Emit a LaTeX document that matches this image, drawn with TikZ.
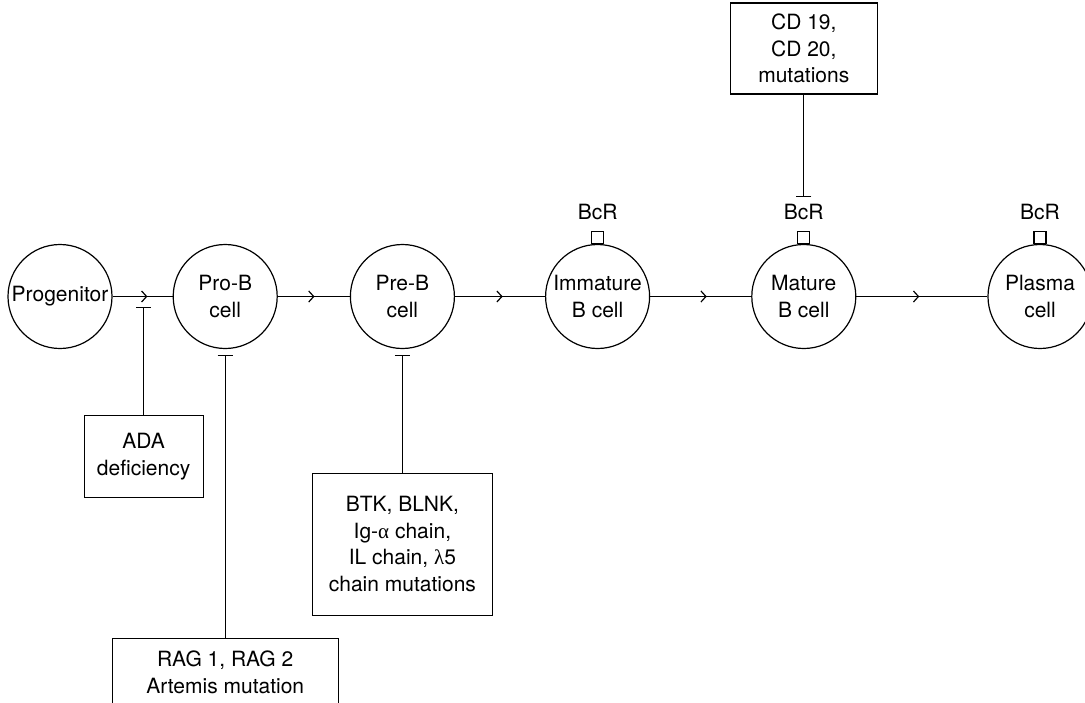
\documentclass[tikz,border=0pt]{standalone}
\usepackage{fontspec}
\setmainfont{TeX Gyre Heros}
\newfontfamily\greekfont{Liberation Serif}
\usepackage{tikz}
\usetikzlibrary{arrows.meta, positioning, decorations.markings}

\begin{document}
\begin{tikzpicture}[
    x=1pt, y=1pt,
    font=\fontsize{21}{26.5}\selectfont,
    cell/.style={circle, draw=black, line width=1.2pt, minimum size=104pt, inner sep=0pt, align=center},
    receptor/.style={rectangle, draw=black, line width=1.2pt, minimum width=12pt, minimum height=12pt, inner sep=0pt},
    tag/.style={inner sep=0pt},
    box/.style={rectangle, draw=black, line width=1.2pt, align=center, inner sep=0pt},
    flow/.style={line width=1.2pt, decoration={markings, mark=at position #1 with {\arrow{Straight Barb[length=5pt, width=11pt]}}}, postaction={decorate}},
    inhibit/.style={-{Bar[width=15pt]}, line width=1.2pt}
]
\useasboundingbox (0,0) rectangle (1085,-702);

% cells along the lineage
\node[cell] (prog) at (60,-296.5) {Progenitor};
\node[cell, right=60pt of prog] (prob) {Pro-B\\cell};
\node[cell, right=72pt of prob] (preb) {Pre-B\\cell};
\node[cell, right=90pt of preb] (imm) {Immature\\B cell};
\node[cell, right=101pt of imm] (mat) {Mature\\B cell};
\node[cell, right=131pt of mat] (plas) {Plasma\\cell};

% receptors
\node[receptor, above=0pt of imm] (immr) {};
\node[receptor, above=0pt of mat] (matr) {};
\node[receptor, above=0pt of plas] (plasr) {};
\node[tag, above=10.5pt of immr] (immbcr) {BcR};
\node[tag, above=10.5pt of matr] (matbcr) {BcR};
\node[tag, above=10.5pt of plasr] (plasbcr) {BcR};

% defects
\coordinate[below right=10.5pt and 31pt of prog.east] (adabar);
\node[box, minimum width=119pt, minimum height=82pt, below=108pt of adabar] (ada) {ADA\\deficiency};
\node[box, minimum width=226pt, minimum height=67pt, below=289pt of prob] (rag) {RAG 1, RAG 2\\Artemis mutation};
\node[box, minimum width=180pt, minimum height=142pt, below=123.5pt of preb] (btk) {BTK, BLNK,\\Ig-{\greekfont α} chain,\\IL chain, {\greekfont λ}5\\chain mutations};
\node[box, minimum width=147pt, minimum height=91pt, above=109.5pt of matbcr] (cd) {CD 19,\\CD 20,\\mutations};

\draw[flow=0.58] (prog) -- (prob);
\draw[flow=0.51] (prob) -- (preb);
\draw[flow=0.53] (preb) -- (imm);
\draw[flow=0.56] (imm) -- (mat);
\draw[flow=0.48] (mat) -- (plas);

\draw[inhibit] (ada) -- (adabar);
\draw[inhibit, shorten >=6pt] (rag) -- (prob);
\draw[inhibit, shorten >=6pt] (btk) -- (preb);
\draw[inhibit, shorten >=7pt] (cd) -- (matbcr);
\end{tikzpicture}
\end{document}
